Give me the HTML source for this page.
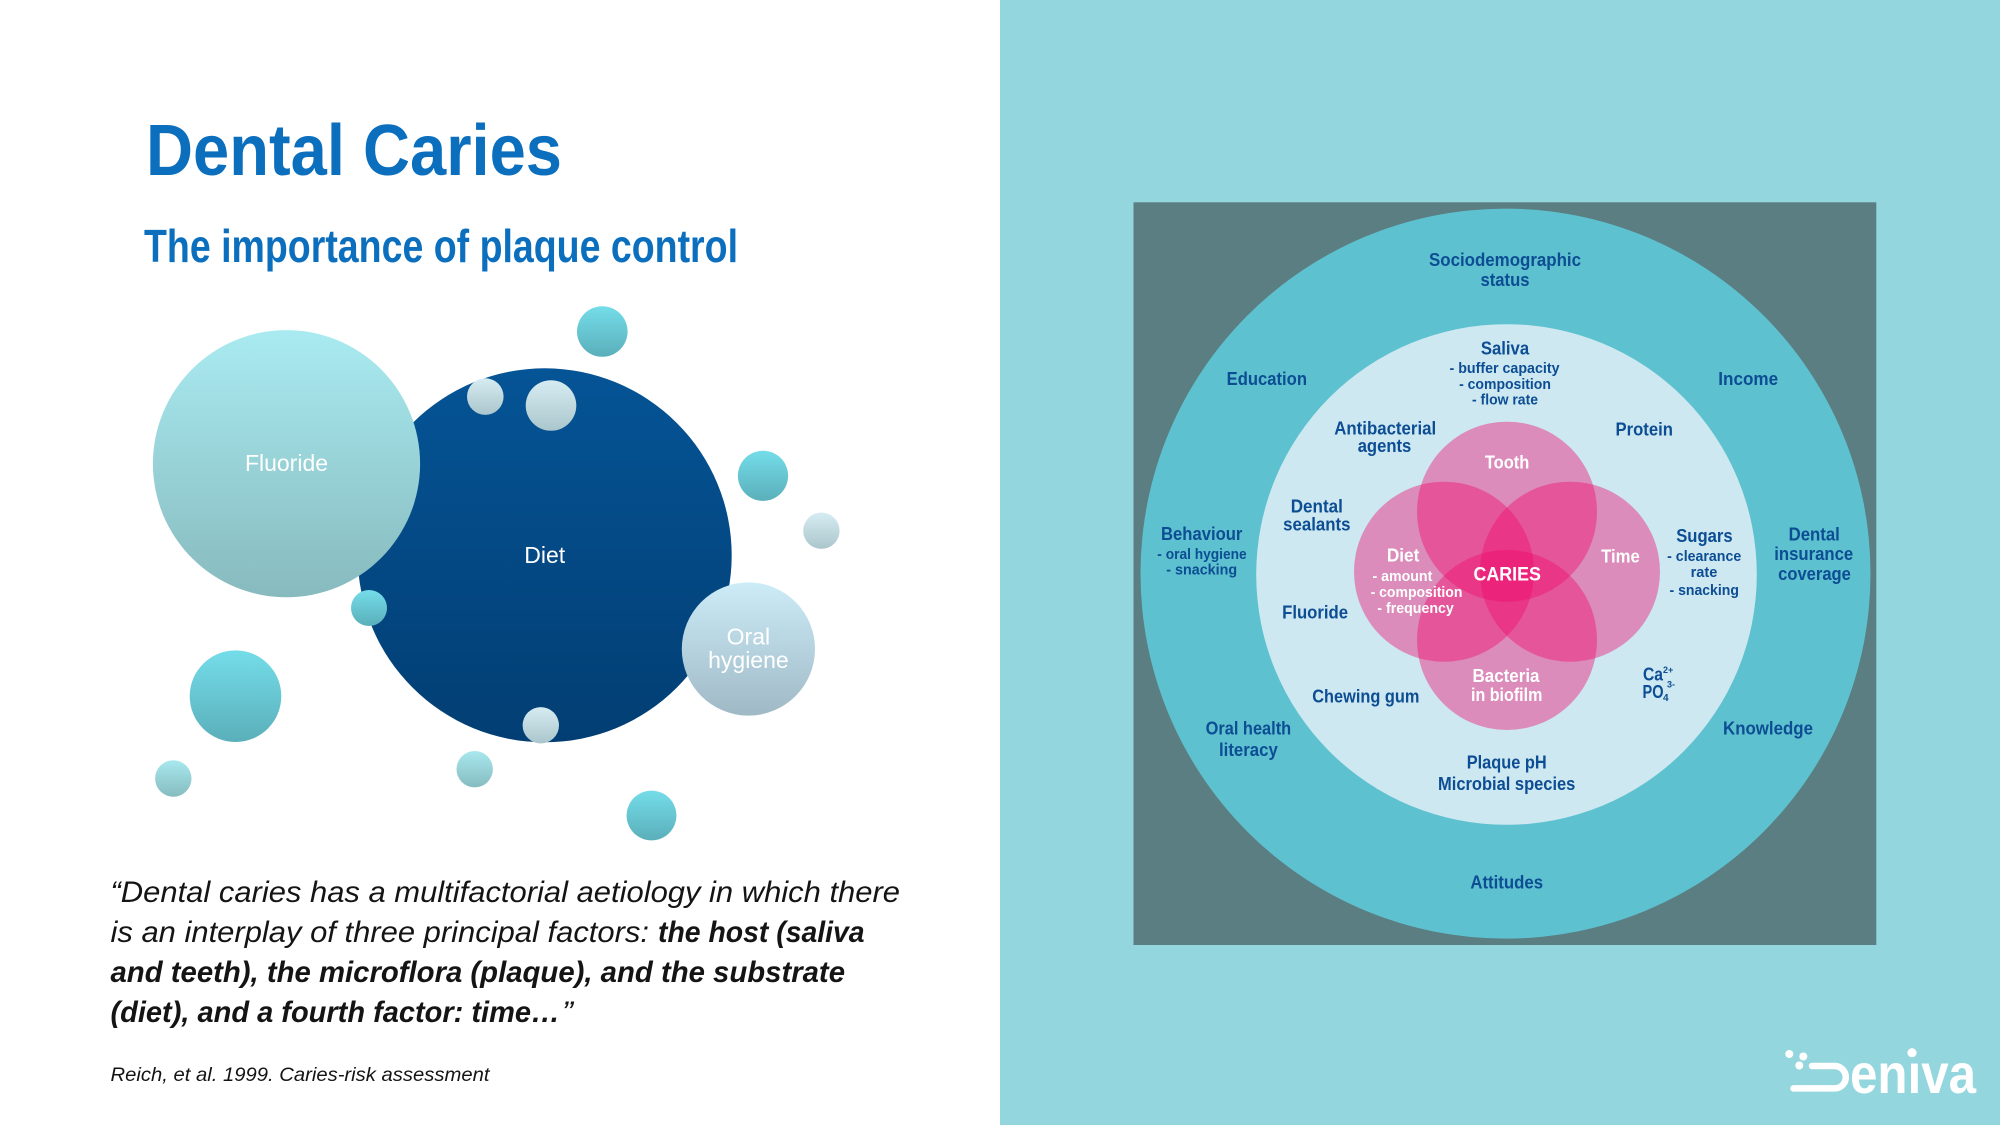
<!DOCTYPE html>
<html>
<head>
<meta charset="utf-8">
<style>
html,body{margin:0;padding:0;background:#fff;}
svg{display:block;}
</style>
</head>
<body>
<svg xmlns="http://www.w3.org/2000/svg" width="2000" height="1125" viewBox="0 0 2000 1125">
  <defs>
    <linearGradient id="gFluor" x1="0" y1="0" x2="0" y2="1">
      <stop offset="0" stop-color="#A9EBF1"/><stop offset="1" stop-color="#87BABE"/>
    </linearGradient>
    <linearGradient id="gDiet" x1="0" y1="0" x2="0" y2="1">
      <stop offset="0" stop-color="#055496"/><stop offset="1" stop-color="#023E73"/>
    </linearGradient>
    <linearGradient id="gOral" x1="0" y1="0" x2="0" y2="1">
      <stop offset="0" stop-color="#CCECF8"/><stop offset="1" stop-color="#9FB9C5"/>
    </linearGradient>
    <linearGradient id="gCyan" x1="0" y1="0" x2="0" y2="1">
      <stop offset="0" stop-color="#74DDE9"/><stop offset="1" stop-color="#5AAFBA"/>
    </linearGradient>
    <linearGradient id="gPale" x1="0" y1="0" x2="0" y2="1">
      <stop offset="0" stop-color="#D6ECF2"/><stop offset="1" stop-color="#AAC6CC"/>
    </linearGradient>
    <linearGradient id="gPaleCyan" x1="0" y1="0" x2="0" y2="1">
      <stop offset="0" stop-color="#A8E8EE"/><stop offset="1" stop-color="#86BCC0"/>
    </linearGradient>
  </defs>

  <!-- Backgrounds -->
  <rect x="0" y="0" width="1000" height="1125" fill="#FFFFFF"/>
  <rect x="1000" y="0" width="1000" height="1125" fill="#94D6DE"/>

  <!-- Left titles -->
  <text x="146" y="175" font-family="Liberation Sans, sans-serif" font-weight="bold" font-size="72" fill="#0B6FBE" textLength="416" lengthAdjust="spacingAndGlyphs">Dental Caries</text>
  <text x="144" y="262" font-family="Liberation Sans, sans-serif" font-weight="bold" font-size="46" fill="#0B6FBE" textLength="594" lengthAdjust="spacingAndGlyphs">The importance of plaque control</text>

  <!-- Bubbles -->
  <circle cx="602.3" cy="331.5" r="25.3" fill="url(#gCyan)"/>
  <circle cx="544.7" cy="555.3" r="187" fill="url(#gDiet)"/>
  <circle cx="286.5" cy="463.7" r="133.6" fill="url(#gFluor)"/>
  <circle cx="485.3" cy="396.6" r="18.3" fill="url(#gPale)"/>
  <circle cx="551" cy="405.5" r="25.3" fill="url(#gPale)"/>
  <circle cx="763" cy="475.8" r="25.1" fill="url(#gCyan)"/>
  <circle cx="821.4" cy="530.7" r="18.2" fill="url(#gPale)"/>
  <circle cx="369" cy="608" r="18" fill="url(#gCyan)"/>
  <circle cx="748.4" cy="649" r="66.6" fill="url(#gOral)"/>
  <circle cx="235.5" cy="696.2" r="45.8" fill="url(#gCyan)"/>
  <circle cx="540.8" cy="725.3" r="18.2" fill="url(#gPale)"/>
  <circle cx="173.3" cy="778.5" r="18.2" fill="url(#gPaleCyan)"/>
  <circle cx="474.7" cy="769.2" r="18.2" fill="url(#gPaleCyan)"/>
  <circle cx="651.5" cy="815.5" r="24.9" fill="url(#gCyan)"/>

  <g font-family="Liberation Sans, sans-serif" font-size="23" fill="#FFFFFF" text-anchor="middle">
    <text x="286.5" y="471">Fluoride</text>
    <text x="544.7" y="563">Diet</text>
    <text x="748.4" y="644.5">Oral</text>
    <text x="748.4" y="668">hygiene</text>
  </g>

  <!-- Quote -->
  <g font-family="Liberation Sans, sans-serif" font-style="italic" font-size="30" fill="#141414">
    <text x="110.5" y="902" textLength="789.5" lengthAdjust="spacingAndGlyphs">“Dental caries has a multifactorial aetiology in which there</text>
    <text x="110.5" y="942" textLength="538.5" lengthAdjust="spacingAndGlyphs">is an interplay of three principal factors:</text>
    <text x="658" y="942" font-weight="bold" textLength="206.6" lengthAdjust="spacingAndGlyphs">the host (saliva</text>
    <text x="110.5" y="982" font-weight="bold" textLength="734.5" lengthAdjust="spacingAndGlyphs">and teeth), the microflora (plaque), and the substrate</text>
    <text x="110.5" y="1022" font-weight="bold" textLength="449.5" lengthAdjust="spacingAndGlyphs">(diet), and a fourth factor: time…</text>
    <text x="562" y="1022" textLength="11" lengthAdjust="spacingAndGlyphs">”</text>
  </g>
  <text x="110.5" y="1081" font-family="Liberation Sans, sans-serif" font-style="italic" font-size="19" fill="#141414" textLength="379" lengthAdjust="spacingAndGlyphs">Reich, et al. 1999. Caries-risk assessment</text>

  <!-- Right diagram -->
  <rect x="1133.5" y="202.3" width="742.8" height="742.7" fill="#5A7E82"/>
  <circle cx="1505.5" cy="573.6" r="365" fill="#5EC1CF"/>
  <circle cx="1506.5" cy="574.5" r="250.3" fill="#CDE8F1"/>

  <g fill="rgb(240,10,108)" fill-opacity="0.41">
    <circle cx="1507" cy="511.7" r="90"/>
    <circle cx="1444" cy="571.7" r="90"/>
    <circle cx="1570" cy="571.7" r="90"/>
    <circle cx="1507" cy="640" r="90"/>
  </g>

  <!-- Right labels: main -->
  <g font-family="Liberation Sans, sans-serif" font-weight="bold" font-size="18.5" fill="#0C4D93" text-anchor="middle">
    <text x="1505" y="266" textLength="152" lengthAdjust="spacingAndGlyphs">Sociodemographic</text>
    <text x="1505" y="286" textLength="49" lengthAdjust="spacingAndGlyphs">status</text>
    <text x="1266.8" y="385" textLength="80.4" lengthAdjust="spacingAndGlyphs">Education</text>
    <text x="1748.2" y="385" textLength="59.8" lengthAdjust="spacingAndGlyphs">Income</text>
    <text x="1505" y="354.5" textLength="48.3" lengthAdjust="spacingAndGlyphs">Saliva</text>
    <text x="1385.2" y="434.5" textLength="101.9" lengthAdjust="spacingAndGlyphs">Antibacterial</text>
    <text x="1384.5" y="452" textLength="53.6" lengthAdjust="spacingAndGlyphs">agents</text>
    <text x="1644.2" y="435.5" textLength="57.4" lengthAdjust="spacingAndGlyphs">Protein</text>
    <text x="1316.8" y="512.5" textLength="52.1" lengthAdjust="spacingAndGlyphs">Dental</text>
    <text x="1316.8" y="530.5" textLength="67.4" lengthAdjust="spacingAndGlyphs">sealants</text>
    <text x="1201.7" y="540" textLength="81.3" lengthAdjust="spacingAndGlyphs">Behaviour</text>
    <text x="1704.4" y="542" textLength="56.4" lengthAdjust="spacingAndGlyphs">Sugars</text>
    <text x="1814.2" y="540.5" textLength="51.2" lengthAdjust="spacingAndGlyphs">Dental</text>
    <text x="1813.7" y="560" textLength="78.9" lengthAdjust="spacingAndGlyphs">insurance</text>
    <text x="1814.5" y="580" textLength="72.7" lengthAdjust="spacingAndGlyphs">coverage</text>
    <text x="1315.1" y="618.5" textLength="66" lengthAdjust="spacingAndGlyphs">Fluoride</text>
    <text x="1365.8" y="702.5" textLength="107.1" lengthAdjust="spacingAndGlyphs">Chewing gum</text>
    <text x="1248.4" y="734.5" textLength="85.6" lengthAdjust="spacingAndGlyphs">Oral health</text>
    <text x="1248.4" y="756" textLength="58.8" lengthAdjust="spacingAndGlyphs">literacy</text>
    <text x="1768" y="734.5" textLength="89.9" lengthAdjust="spacingAndGlyphs">Knowledge</text>
    <text x="1506.7" y="768.5" textLength="79.9" lengthAdjust="spacingAndGlyphs">Plaque pH</text>
    <text x="1506.7" y="790" textLength="137.3" lengthAdjust="spacingAndGlyphs">Microbial species</text>
    <text x="1506.7" y="888.5" textLength="72.7" lengthAdjust="spacingAndGlyphs">Attitudes</text>
  </g>

  <!-- Right labels: sub -->
  <g font-family="Liberation Sans, sans-serif" font-weight="bold" font-size="15" fill="#0C4D93" text-anchor="middle">
    <text x="1504.5" y="373" textLength="110" lengthAdjust="spacingAndGlyphs">- buffer capacity</text>
    <text x="1505" y="389" textLength="91.8" lengthAdjust="spacingAndGlyphs">- composition</text>
    <text x="1505" y="404.5" textLength="66" lengthAdjust="spacingAndGlyphs">- flow rate</text>
    <text x="1202" y="559" textLength="89.4" lengthAdjust="spacingAndGlyphs">- oral hygiene</text>
    <text x="1201.7" y="574.5" textLength="70.8" lengthAdjust="spacingAndGlyphs">- snacking</text>
    <text x="1704.2" y="561" textLength="74.1" lengthAdjust="spacingAndGlyphs">- clearance</text>
    <text x="1704" y="577" textLength="26.8" lengthAdjust="spacingAndGlyphs">rate</text>
    <text x="1704.2" y="595" textLength="69.4" lengthAdjust="spacingAndGlyphs">- snacking</text>
  </g>

  <!-- Ca / PO4 -->
  <g font-family="Liberation Sans, sans-serif" font-weight="bold" fill="#0C4D93">
    <text x="1643" y="680.5" font-size="18.5" textLength="20" lengthAdjust="spacingAndGlyphs">Ca</text>
    <text x="1663" y="673" font-size="9">2+</text>
    <text x="1642.5" y="698" font-size="18.5" textLength="21" lengthAdjust="spacingAndGlyphs">PO</text>
    <text x="1663" y="701" font-size="10">4</text>
    <text x="1667" y="687.5" font-size="9">3-</text>
  </g>

  <!-- Venn white labels -->
  <g font-family="Liberation Sans, sans-serif" font-weight="bold" font-size="18.5" fill="#FFFFFF" text-anchor="middle">
    <text x="1507.1" y="468.5" textLength="44.5" lengthAdjust="spacingAndGlyphs">Tooth</text>
    <text x="1403.1" y="561.5" textLength="32.5" lengthAdjust="spacingAndGlyphs">Diet</text>
    <text x="1620.5" y="562.5" textLength="38.7" lengthAdjust="spacingAndGlyphs">Time</text>
    <text x="1507.2" y="580.5" font-size="19" textLength="67.4" lengthAdjust="spacingAndGlyphs">CARIES</text>
    <text x="1506" y="682" textLength="67" lengthAdjust="spacingAndGlyphs">Bacteria</text>
    <text x="1506.7" y="701" textLength="71.3" lengthAdjust="spacingAndGlyphs">in biofilm</text>
  </g>
  <g font-family="Liberation Sans, sans-serif" font-weight="bold" font-size="15" fill="#FFFFFF">
    <text x="1372.5" y="581" textLength="59.8" lengthAdjust="spacingAndGlyphs">- amount</text>
    <text x="1370.6" y="597" textLength="91.8" lengthAdjust="spacingAndGlyphs">- composition</text>
    <text x="1377.3" y="613" textLength="76.5" lengthAdjust="spacingAndGlyphs">- frequency</text>
  </g>

  <!-- Deniva logo -->
  <g fill="#FFFFFF">
    <circle cx="1789.3" cy="1054" r="4"/>
    <circle cx="1803.3" cy="1056.5" r="4"/>
    <circle cx="1799.3" cy="1065.5" r="4"/>
    <circle cx="1912" cy="1052.7" r="4.6"/>
  </g>
  <path d="M1812 1066 H1834.6 A11.2 11.2 0 0 1 1834.6 1088.4 H1793.5" fill="none" stroke="#FFFFFF" stroke-width="6.5" stroke-linecap="round" stroke-linejoin="round"/>
  <text x="1850" y="1093" font-family="Liberation Sans, sans-serif" font-weight="bold" font-size="56" fill="#FFFFFF" textLength="126" lengthAdjust="spacingAndGlyphs">enıva</text>
</svg>
</body>
</html>
